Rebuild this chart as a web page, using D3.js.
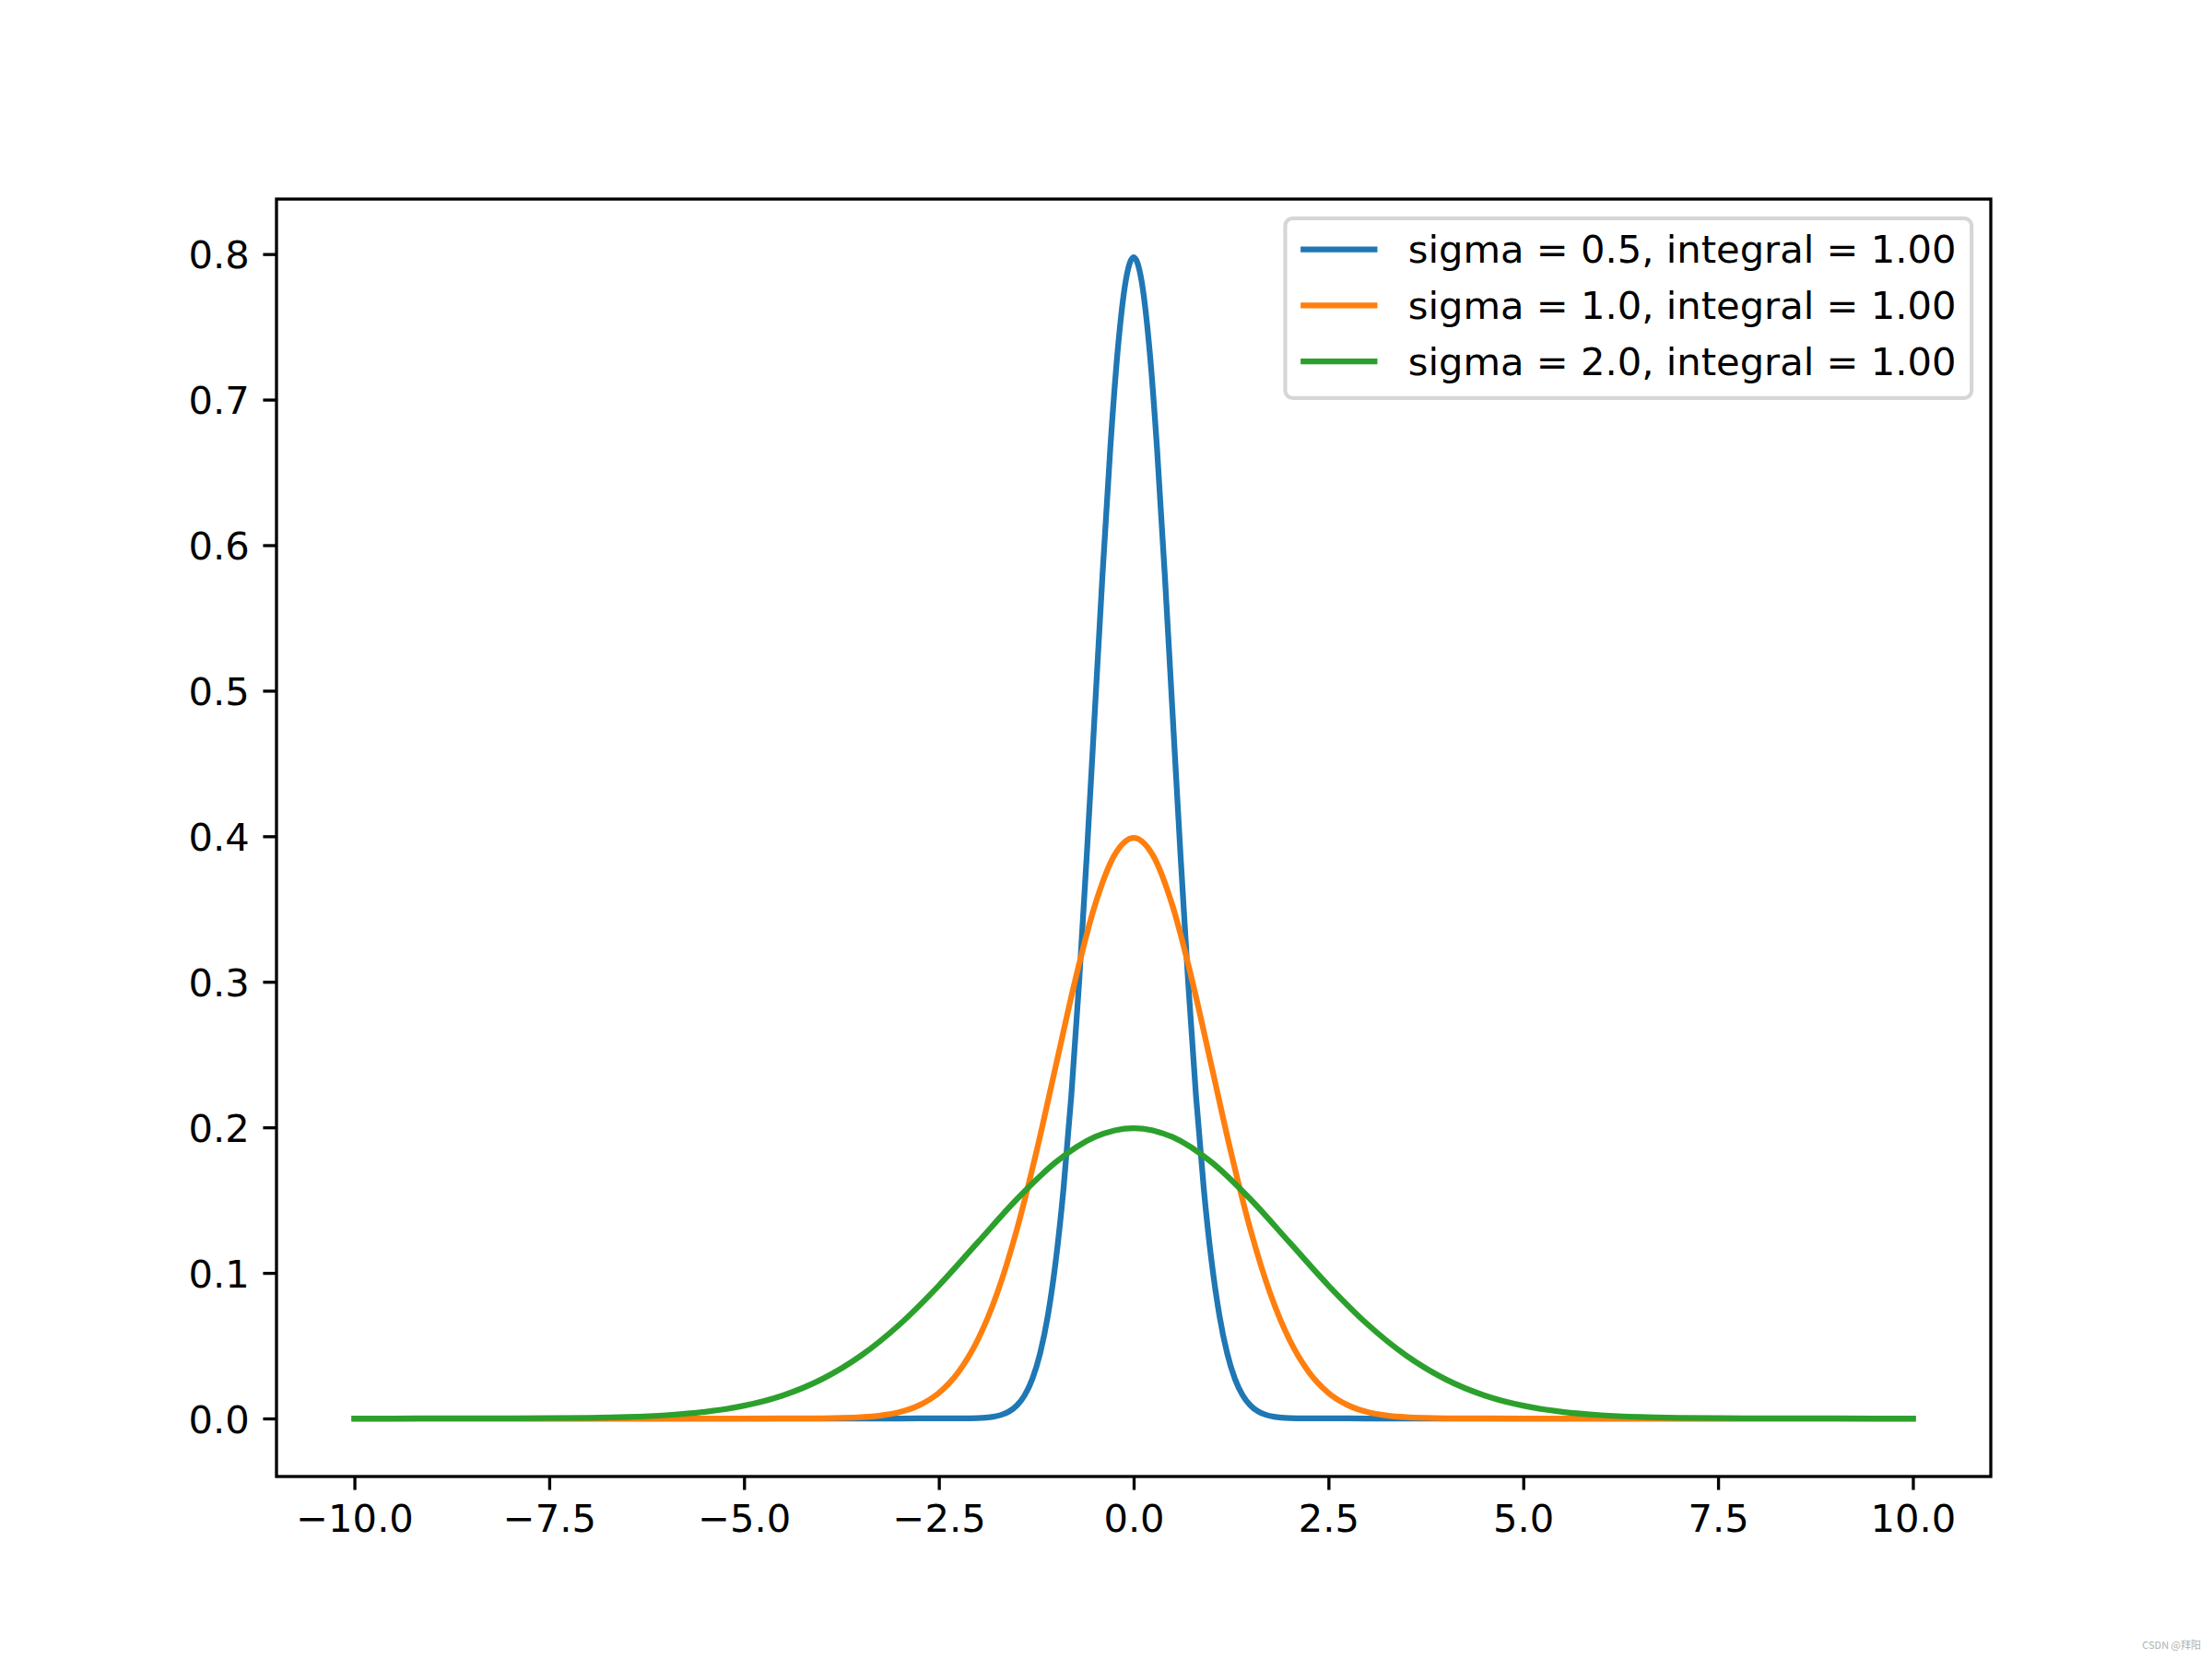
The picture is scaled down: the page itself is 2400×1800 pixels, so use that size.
<!DOCTYPE html>
<html>
<head>
<meta charset="utf-8">
<script src="https://cdn.jsdelivr.net/npm/d3@7"></script>
<style>
  html, body { margin: 0; padding: 0; background: #fff; }
  svg { display: block; }
</style>
</head>
<body>
<svg id="chart" width="2400" height="1800"></svg>
<script>
// ---------------- data ----------------
const seriesLabels = [
  "sigma = 0.5, integral = 1.00",
  "sigma = 1.0, integral = 1.00",
  "sigma = 2.0, integral = 1.00"
];
const seriesColors = ["#1f77b4", "#ff7f0e", "#2ca02c"];

const blueX = [-10, -3, -2.5, -2.2, -2.0, -1.9, -1.8, -1.7, -1.6, -1.5, -1.4, -1.3, -1.2, -1.1, -1.0,
  -0.9, -0.8, -0.7, -0.6, -0.5, -0.4, -0.3, -0.2, -0.1, 0,
  0.1, 0.2, 0.3, 0.4, 0.5, 0.6, 0.7, 0.8, 0.9, 1.0, 1.1, 1.2, 1.3, 1.4, 1.5, 1.6, 1.7, 1.8, 1.9, 2.0,
  2.2, 2.5, 3, 10];
const blueY = [0, 0, 0.00001, 0.00005, 0.00027, 0.00058, 0.00122, 0.00246, 0.00477, 0.00886, 0.01583, 0.02717, 0.04479, 0.07095, 0.10798,
  0.15790, 0.22184, 0.29946, 0.38837, 0.48394, 0.57938, 0.66645, 0.73654, 0.78209, 0.79788,
  0.78209, 0.73654, 0.66645, 0.57938, 0.48394, 0.38837, 0.29946, 0.22184, 0.15790, 0.10798, 0.07095, 0.04479, 0.02717, 0.01583, 0.00886, 0.00477, 0.00246, 0.00122, 0.00058, 0.00027,
  0.00005, 0.00001, 0, 0];

const orangeX = [-10, -5, -4.5, -4, -3.75, -3.5, -3.25, -3, -2.75, -2.5, -2.25, -2, -1.75, -1.5, -1.25, -1, -0.75, -0.5, -0.25, 0,
  0.25, 0.5, 0.75, 1, 1.25, 1.5, 1.75, 2, 2.25, 2.5, 2.75, 3, 3.25, 3.5, 3.75, 4, 4.5, 5, 10];
const orangeY = [0, 0, 0.00002, 0.00013, 0.00035, 0.00087, 0.00203, 0.00443, 0.00909, 0.01753, 0.03174, 0.05399, 0.08628, 0.12952, 0.18265, 0.24197, 0.30114, 0.35207, 0.38667, 0.39894,
  0.38667, 0.35207, 0.30114, 0.24197, 0.18265, 0.12952, 0.08628, 0.05399, 0.03174, 0.01753, 0.00909, 0.00443, 0.00203, 0.00087, 0.00035, 0.00013, 0.00002, 0, 0];

const greenX = [-10, -9.5, -9, -8.5, -8, -7.5, -7, -6.5, -6, -5.5, -5, -4.5, -4, -3.5, -3, -2.5, -2, -1.5, -1, -0.5, 0,
  0.5, 1, 1.5, 2, 2.5, 3, 3.5, 4, 4.5, 5, 5.5, 6, 6.5, 7, 7.5, 8, 8.5, 9, 9.5, 10];
const greenY = [0, 0, 0.00001, 0.00002, 0.00007, 0.00018, 0.00044, 0.00101, 0.00222, 0.00455, 0.00876, 0.01587, 0.02700, 0.04314, 0.06476, 0.09132, 0.12099, 0.15057, 0.17603, 0.19333, 0.19947,
  0.19333, 0.17603, 0.15057, 0.12099, 0.09132, 0.06476, 0.04314, 0.02700, 0.01587, 0.00876, 0.00455, 0.00222, 0.00101, 0.00044, 0.00018, 0.00007, 0.00002, 0.00001, 0, 0];

const xTicks = [-10, -7.5, -5, -2.5, 0, 2.5, 5, 7.5, 10];
const xTickLabels = ["\u221210.0", "\u22127.5", "\u22125.0", "\u22122.5", "0.0", "2.5", "5.0", "7.5", "10.0"];
const yTicks = [0, 0.1, 0.2, 0.3, 0.4, 0.5, 0.6, 0.7, 0.8];
const yTickLabels = ["0.0", "0.1", "0.2", "0.3", "0.4", "0.5", "0.6", "0.7", "0.8"];
const watermark = "CSDN @拜阳";

// ---------------- layout ----------------
(function () {
const W = 2400, H = 1800;
const pLeft = 300, pRight = 2160, pTop = 216, pBottom = 1602;
const FONT = "'DejaVu Sans', sans-serif";
const fs = 41.67;          // 10pt at 300 dpi
const tickLen = 14.58;     // 3.5pt
const tickPad = 14.58;
const lw = 6.25;           // 1.5pt
const spineW = 3.33;

const svg = d3.select("#chart");
svg.append("rect").attr("width", W).attr("height", H).attr("fill", "#fff");

const yMax = 0.79788;
const yMargin = yMax * 0.05;
const x = d3.scaleLinear().domain([-11, 11]).range([pLeft, pRight]);
const y = d3.scaleLinear().domain([-yMargin, yMax + yMargin]).range([pBottom, pTop]);

const series = [
  { xs: blueX, ys: blueY },
  { xs: orangeX, ys: orangeY },
  { xs: greenX, ys: greenY }
];

const line = d3.line()
  .x(d => x(d[0]))
  .y(d => y(d[1]))
  .curve(d3.curveMonotoneX);

series.forEach((s, i) => {
  const pts = s.xs.map((v, k) => [v, s.ys[k]]);
  svg.append("path")
    .attr("d", line(pts))
    .attr("fill", "none")
    .attr("stroke", seriesColors[i])
    .attr("stroke-width", lw)
    .attr("stroke-linejoin", "round")
    .attr("stroke-linecap", "square");
});

// axes
const xAxis = d3.axisBottom(x)
  .tickValues(xTicks)
  .tickFormat((d, i) => xTickLabels[i])
  .tickSize(tickLen)
  .tickPadding(tickPad);
const gx = svg.append("g").attr("transform", `translate(0,${pBottom})`).call(xAxis);
gx.select(".domain").remove();
gx.selectAll(".tick line").attr("stroke", "#000").attr("stroke-width", spineW);
gx.selectAll(".tick text")
  .attr("font-family", FONT).attr("font-size", fs).attr("fill", "#000")
  .attr("dy", null)
  .attr("y", tickLen + tickPad + 30.4)
  .attr("dominant-baseline", "alphabetic");

const yAxis = d3.axisLeft(y)
  .tickValues(yTicks)
  .tickFormat((d, i) => yTickLabels[i])
  .tickSize(tickLen)
  .tickPadding(tickPad);
const gy = svg.append("g").attr("transform", `translate(${pLeft},0)`).call(yAxis);
gy.select(".domain").remove();
gy.selectAll(".tick line").attr("stroke", "#000").attr("stroke-width", spineW);
gy.selectAll(".tick text")
  .attr("font-family", FONT).attr("font-size", fs).attr("fill", "#000")
  .attr("dy", null)
  .attr("y", 15.2)
  .attr("dominant-baseline", "alphabetic");

// frame (spines)
svg.append("rect")
  .attr("x", pLeft).attr("y", pTop)
  .attr("width", pRight - pLeft).attr("height", pBottom - pTop)
  .attr("fill", "none").attr("stroke", "#000").attr("stroke-width", spineW);

// legend
const pad = 0.5 * fs;          // borderaxespad
const bpad = 0.4 * fs;         // borderpad
const handleLen = 2.0 * fs;
const handleTextPad = 0.8 * fs;
const rowH = 40;
const rowGap = 0.5 * fs;

const lg = svg.append("g");
const frame = lg.append("rect");
const texts = [];
seriesLabels.forEach((lab) => {
  const t = lg.append("text")
    .attr("font-family", FONT).attr("font-size", fs).attr("fill", "#000")
    .text(lab);
  texts.push(t);
});
const textW = d3.max(texts, t => t.node().getComputedTextLength());
const legW = bpad * 2 + handleLen + handleTextPad + textW;
const legH = bpad * 2 + rowH * 3 + rowGap * 2;
const lx = pRight - pad - legW;
const ly = pTop + pad;
frame.attr("x", lx).attr("y", ly).attr("width", legW).attr("height", legH)
  .attr("rx", 8).attr("ry", 8)
  .attr("fill", "#fff").attr("fill-opacity", 0.8)
  .attr("stroke", "#cccccc").attr("stroke-opacity", 0.8).attr("stroke-width", 4.17);
seriesLabels.forEach((lab, i) => {
  const cy = ly + bpad + rowH / 2 - 3 + i * (rowH + rowGap);
  lg.append("line")
    .attr("x1", lx + bpad).attr("x2", lx + bpad + handleLen)
    .attr("y1", cy).attr("y2", cy)
    .attr("stroke", seriesColors[i]).attr("stroke-width", lw);
  texts[i].attr("x", lx + bpad + handleLen + handleTextPad).attr("y", cy + 14.5);
});

// watermark
svg.append("text")
  .attr("x", 2388).attr("y", 1789)
  .attr("text-anchor", "end")
  .attr("font-family", "'Noto Sans CJK SC', 'Noto Sans', sans-serif")
  .attr("font-size", 11).attr("fill", "#b0b0b0")
  .text(watermark);
})();
</script>
</body>
</html>
